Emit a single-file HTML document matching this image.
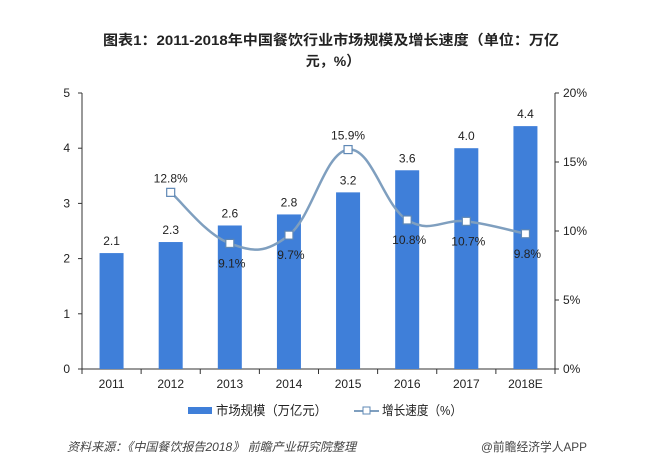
<!DOCTYPE html>
<html><head><meta charset="utf-8"><style>
body{margin:0;background:#fff;width:667px;height:462px;overflow:hidden;font-family:"Liberation Sans","Noto Sans CJK SC",sans-serif}
svg text{font-family:"Liberation Sans","Noto Sans CJK SC",sans-serif}
</style></head><body>
<svg id="chart" width="667" height="462">
<text x="103" y="45" textLength="456" lengthAdjust="spacingAndGlyphs" font-size="14" font-weight="bold" fill="#222">图表1：2011-2018年中国餐饮行业市场规模及增长速度（单位：万亿</text>
<text x="333" y="66" text-anchor="middle" font-size="14" font-weight="bold" fill="#222">元，%）</text>
<g id="g"></g>
<g>
<rect x="188" y="407" width="24" height="7" fill="#3f7fd9"/>
<text x="216" y="415" textLength="111" lengthAdjust="spacingAndGlyphs" font-size="13" fill="#222">市场规模（万亿元）</text>
<line x1="354" y1="411" x2="379" y2="411" stroke="#7f9fbf" stroke-width="2"/>
<rect x="363" y="407" width="7" height="7" fill="#fff" stroke="#5f88b5"/>
<text x="382" y="415" textLength="80" lengthAdjust="spacingAndGlyphs" font-size="13" fill="#222">增长速度（%）</text>
</g>
<text x="67" y="451" textLength="289" lengthAdjust="spacingAndGlyphs" font-size="12" font-style="italic" fill="#444">资料来源：《中国餐饮报告2018》 前瞻产业研究院整理</text>
<text x="481" y="451" textLength="106" lengthAdjust="spacingAndGlyphs" font-size="12" fill="#444">@前瞻经济学人APP</text>
</svg>
<script>
const categories=["2011","2012","2013","2014","2015","2016","2017","2018E"];
const marketSize=[2.1,2.3,2.6,2.8,3.2,3.6,4.0,4.4];
const growth=[null,12.8,9.1,9.7,15.9,10.8,10.7,9.8];
const leftTicks=[0,1,2,3,4,5];
const rightTicks=[0,5,10,15,20];
const NS="http://www.w3.org/2000/svg";
const g=document.getElementById('g');
const X0=82,X1=555,Y0=369,Y1=93;
const bw=(X1-X0)/categories.length;
const xc=i=>X0+bw*(i+0.5);
const yL=v=>Y0-(Y0-Y1)*v/5;
const yR=v=>Y0-(Y0-Y1)*v/20;
function el(t,a){const e=document.createElementNS(NS,t);for(const k in a)e.setAttribute(k,a[k]);g.appendChild(e);return e;}
function tx(x,y,s,anchor,size){const e=el('text',{x:x,y:y,'text-anchor':anchor,'font-size':size||12,fill:'#222'});e.textContent=s;return e;}
let a=el('line',{x1:X0,y1:Y1,x2:X0,y2:Y0,stroke:'#333'});


a=el('line',{x1:X1,y1:Y1,x2:X1,y2:Y0,stroke:'#333'});


a=el('line',{x1:X0,y1:Y0,x2:X1,y2:Y0,stroke:'#333'});


leftTicks.forEach(v=>{el('line',{x1:X0-4,y1:yL(v),x2:X0,y2:yL(v),stroke:'#333'});
 const t=tx(X0-12,yL(v)+4,String(v),'end');
 
 });
rightTicks.forEach(v=>{el('line',{x1:X1,y1:yR(v),x2:X1+4,y2:yR(v),stroke:'#333'});
 const t=tx(X1+8,yR(v)+4,v+'%','start');
 
 });
for(let i=0;i<=categories.length;i++)el('line',{x1:X0+bw*i,y1:Y0,x2:X0+bw*i,y2:Y0+5,stroke:'#333'});
categories.forEach((c,i)=>{
 const t=tx(xc(i),388,c,'middle');
 
 
 const b=el('rect',{x:xc(i)-12,y:yL(marketSize[i]),width:24,height:Y0-yL(marketSize[i]),fill:'#3f7fd9'});
 
 
 const l=tx(xc(i),yL(marketSize[i])-8,marketSize[i].toFixed(1),'middle');
 
 
});
const pts=[];growth.forEach((v,i)=>{if(v!=null)pts.push([xc(i),yR(v)]);});
let d='M'+pts[0][0]+','+pts[0][1];
for(let i=0;i<pts.length-1;i++){const p0=pts[i-1]||pts[i],p1=pts[i],p2=pts[i+1],p3=pts[i+2]||p2;const k=0.2;
 d+=` C${p1[0]+(p2[0]-p0[0])*k},${p1[1]+(p2[1]-p0[1])*k} ${p2[0]-(p3[0]-p1[0])*k},${p2[1]-(p3[1]-p1[1])*k} ${p2[0]},${p2[1]}`;}
const ln=el('path',{d:d,fill:'none',stroke:'#7f9fbf','stroke-width':2.5});


growth.forEach((v,i)=>{if(v==null)return;
 const m=el('rect',{x:xc(i)-4,y:yR(v)-4,width:8,height:8,fill:'#fff',stroke:'#5f88b5','stroke-width':1.2});
 
 
 const above=(i===1||i===4);
 const l=tx(xc(i)+(above?0:2),above?yR(v)-10:yR(v)+24,v.toFixed(1)+'%','middle');
 
 
});
</script>
</body></html>
